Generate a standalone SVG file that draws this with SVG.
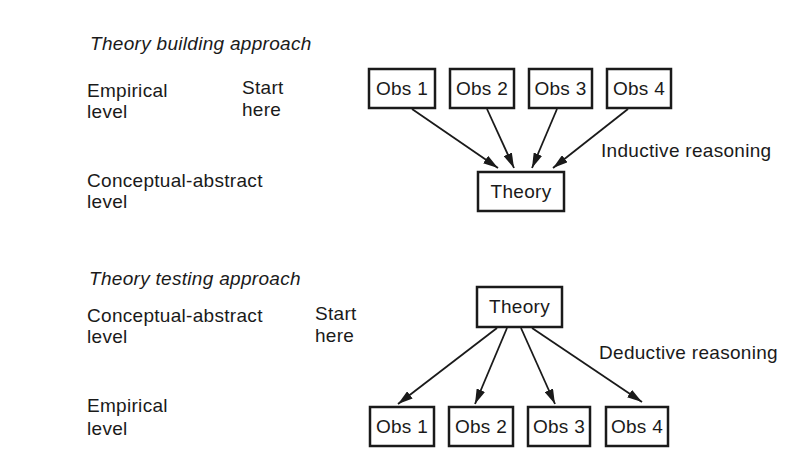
<svg xmlns="http://www.w3.org/2000/svg" width="799" height="463" viewBox="0 0 799 463">
<defs>
<style>
text{font-family:"Liberation Sans",Arial,sans-serif;font-size:19px;letter-spacing:0.3px;fill:#1a1a1a}
.it{font-style:italic}
.box{fill:#fff;stroke:#1a1a1a;stroke-width:2.5}
.lbl{text-anchor:middle}
.conn line{stroke:#1a1a1a;stroke-width:1.8}
</style>
<marker id="ah" viewBox="0 0 15 9" refX="15" refY="4.5" markerWidth="15" markerHeight="9" markerUnits="userSpaceOnUse" orient="auto">
<path d="M0,0 L15,4.5 L0,9 Z" fill="#1a1a1a"/>
</marker>
</defs>
<rect width="799" height="463" fill="#fff"/>

<g id="labels-top">
<text class="it" x="90" y="50">Theory building approach</text>
<text x="87" y="97">Empirical</text>
<text x="87" y="118">level</text>
<text x="242" y="94">Start</text>
<text x="242" y="116">here</text>
<text x="87" y="187">Conceptual-abstract</text>
<text x="87" y="208">level</text>
<text x="601" y="157">Inductive reasoning</text>
</g>

<g id="top-obs1"><rect class="box" x="369" y="69" width="66" height="39"/><text class="lbl" x="402" y="95">Obs 1</text></g>
<g id="top-obs2"><rect class="box" x="450" y="69" width="64" height="39"/><text class="lbl" x="482" y="95">Obs 2</text></g>
<g id="top-obs3"><rect class="box" x="529" y="69" width="63" height="39"/><text class="lbl" x="560.5" y="95">Obs 3</text></g>
<g id="top-obs4"><rect class="box" x="607" y="69" width="64" height="39"/><text class="lbl" x="639" y="95">Obs 4</text></g>
<g id="top-theory"><rect class="box" x="478" y="172" width="86" height="39"/><text class="lbl" x="521" y="198">Theory</text></g>

<g id="labels-bottom">
<text class="it" x="89" y="285">Theory testing approach</text>
<text x="87" y="322">Conceptual-abstract</text>
<text x="87" y="343">level</text>
<text x="315" y="320">Start</text>
<text x="315" y="342">here</text>
<text x="87" y="412">Empirical</text>
<text x="87" y="435">level</text>
<text x="599" y="359">Deductive reasoning</text>
</g>

<g id="bot-theory"><rect class="box" x="477" y="287" width="85" height="40"/><text class="lbl" x="519.5" y="313">Theory</text></g>
<g id="bot-obs1"><rect class="box" x="370" y="407" width="64" height="39"/><text class="lbl" x="402" y="433">Obs 1</text></g>
<g id="bot-obs2"><rect class="box" x="449" y="407" width="64" height="39"/><text class="lbl" x="481" y="433">Obs 2</text></g>
<g id="bot-obs3"><rect class="box" x="528" y="407" width="62" height="39"/><text class="lbl" x="559" y="433">Obs 3</text></g>
<g id="bot-obs4"><rect class="box" x="606" y="407" width="62" height="39"/><text class="lbl" x="637" y="433">Obs 4</text></g>

<g id="connectors" class="conn">
<line x1="412" y1="109" x2="498" y2="168" marker-end="url(#ah)"/>
<line x1="487" y1="109" x2="514" y2="168" marker-end="url(#ah)"/>
<line x1="557" y1="109" x2="532" y2="168" marker-end="url(#ah)"/>
<line x1="628" y1="109" x2="553" y2="168" marker-end="url(#ah)"/>
<line x1="497" y1="328" x2="398" y2="404" marker-end="url(#ah)"/>
<line x1="507" y1="328" x2="475" y2="404" marker-end="url(#ah)"/>
<line x1="521" y1="328" x2="555" y2="404" marker-end="url(#ah)"/>
<line x1="532" y1="328" x2="642" y2="402" marker-end="url(#ah)"/>
</g>
</svg>
